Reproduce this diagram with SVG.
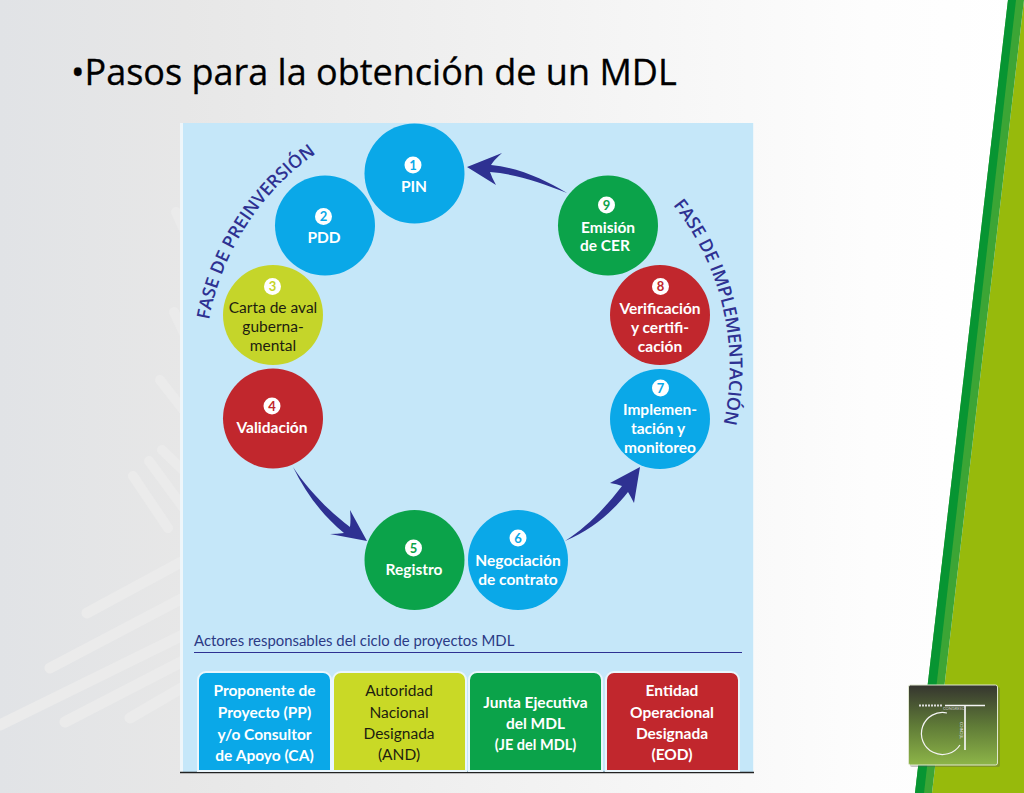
<svg xmlns="http://www.w3.org/2000/svg" width="1024" height="793" viewBox="0 0 1024 793">
<defs>
<linearGradient id="bg" x1="0" y1="0" x2="1" y2="0"><stop offset="0" stop-color="#e1e3e6"/><stop offset="0.18" stop-color="#e7e7e7"/><stop offset="0.55" stop-color="#f3f3f3"/><stop offset="0.85" stop-color="#fdfdfd"/><stop offset="1" stop-color="#fff"/></linearGradient>
<linearGradient id="logo" x1="0" y1="0" x2="0" y2="1"><stop offset="0" stop-color="#35352f"/><stop offset="0.5" stop-color="#5f7a37"/><stop offset="1" stop-color="#8db548"/></linearGradient>
<path id="arcL" d="M209 320 A261 261 0 0 1 318 152"/>
<path id="arcR" d="M673 205 A261 261 0 0 1 722 430"/>
</defs>
<style>
.n{font-family:"Lato","Open Sans",sans-serif;font-weight:700;font-size:15.5px;text-anchor:middle;fill:#fff}
.d{fill:#1d1d10;font-weight:400}
.b{fill:#fff}
.num{font-family:"Lato",sans-serif;font-weight:700;font-size:13px;text-anchor:middle}
.phase{font-family:"Open Sans",sans-serif;font-weight:600;font-size:18px;fill:#2e3192}
.w{stroke:#ebebeb;stroke-linecap:round;fill:none}
.box{stroke:#eaf6fc;stroke-width:2}
</style>
<rect width="1024" height="793" fill="url(#bg)"/>
<g id="watermark">
<path class="w" stroke-width="11" d="M87 613L185 560M50 668L185 597M0 725L185 634M65 722L185 660M130 718L185 686"/>
<path class="w" stroke-width="10" d="M133 476L168 528M149 461L185 510M162 450L185 472M160 380L185 412M174 312L185 335M176 212L185 232"/>
</g>
<g id="stripes">
<polygon points="1024,0 1024,793 932,793" fill="#97ba0c"/>
<polygon points="1008,0 1024,0 932,793 915,793" fill="#3ca535"/>
<polygon points="1008,0 1016,0 924,793 915,793" fill="#079532"/>
</g>
<text id="title" x="71" y="85" font-family="'Open Sans',sans-serif" font-size="36" fill="#000" stroke="#000" stroke-width="0.300">•Pasos para la obtención de un MDL</text>
<g id="panel">
<rect x="180" y="123" width="574" height="649" fill="#eef6fa"/>
<rect x="183" y="123" width="570" height="649" fill="#c5e7f9"/>
<line x1="180" y1="772.500" x2="754" y2="772.500" stroke="#222" stroke-width="1.500"/>
</g>
<g id="connectors" fill="#2e3192">
<path id="arrow-9-1" d="M467 167L502 153Q494 160 491 165C520 168 545 180 567 193C540 182 515 174 490 172Q492 178 496 185Z"/>
<path id="arrow-4-5" d="M367 541L350 510Q351 519 350 527C330 512 308 490 293 467C305 492 322 515 344 533Q337 534 330 534Z"/>
<path id="arrow-6-7" d="M640 467L610 483Q617 484 622 486C605 508 587 527 565 541C592 530 612 512 628 492Q631 497 634 503Z"/>
</g>
<g id="node-1"><circle cx="414.500" cy="173.500" r="50" fill="#0aa8e8"/><circle class="b" cx="413" cy="165" r="8.500"/><text class="num" x="413" y="169.500" fill="#0aa8e8">1</text><text class="n" x="414" y="192">PIN</text></g>
<g id="node-2"><circle cx="325" cy="225.500" r="50" fill="#0aa8e8"/><circle class="b" cx="323.500" cy="216.500" r="8.500"/><text class="num" x="323.500" y="221" fill="#0aa8e8">2</text><text class="n" x="324" y="243">PDD</text></g>
<g id="node-3"><circle cx="273" cy="315" r="50" fill="#c5d52a"/><circle class="b" cx="272.500" cy="286.500" r="8.500"/><text class="num" x="272.500" y="291" fill="#c5d52a">3</text><text class="n d" x="273" y="313">Carta de aval</text><text class="n d" x="273" y="332">guberna-</text><text class="n d" x="273" y="351">mental</text></g>
<g id="node-4"><circle cx="273" cy="418.500" r="50" fill="#c1272d"/><circle class="b" cx="272" cy="406" r="8.500"/><text class="num" x="272" y="410.500" fill="#c1272d">4</text><text class="n" x="272" y="433">Validación</text></g>
<g id="node-5"><circle cx="414.500" cy="560" r="50" fill="#0ba34a"/><circle class="b" cx="413.500" cy="548" r="8.500"/><text class="num" x="413.500" y="552.500" fill="#0ba34a">5</text><text class="n" x="414" y="575">Registro</text></g>
<g id="node-6"><circle cx="518" cy="560" r="50" fill="#0aa8e8"/><circle class="b" cx="518" cy="538" r="8.500"/><text class="num" x="518" y="542.500" fill="#0aa8e8">6</text><text class="n" x="518" y="566">Negociación</text><text class="n" x="518" y="585">de contrato</text></g>
<g id="node-7"><circle cx="660" cy="419" r="50" fill="#0aa8e8"/><circle class="b" cx="660.500" cy="388" r="8.500"/><text class="num" x="660.500" y="392.500" fill="#0aa8e8">7</text><text class="n" x="660" y="415">Implemen-</text><text class="n" x="658" y="434">tación y</text><text class="n" x="660" y="453">monitoreo</text></g>
<g id="node-8"><circle cx="660" cy="315" r="50" fill="#c1272d"/><circle class="b" cx="660.500" cy="286.500" r="8.500"/><text class="num" x="660.500" y="291" fill="#c1272d">8</text><text class="n" x="660" y="314">Verificación</text><text class="n" x="660" y="333">y certifi-</text><text class="n" x="660" y="352">cación</text></g>
<g id="node-9"><circle cx="608" cy="225.500" r="50" fill="#0ba34a"/><circle class="b" cx="606.500" cy="205" r="8.500"/><text class="num" x="606.500" y="209.500" fill="#0ba34a">9</text><text class="n" x="608" y="233">Emisión</text><text class="n" x="605" y="251">de CER</text></g>
<g id="phases">
<text class="phase"><textPath href="#arcL" textLength="203">FASE DE PREINVERSIÓN</textPath></text>
<text class="phase"><textPath href="#arcR" textLength="232">FASE DE IMPLEMENTACIÓN</textPath></text>
</g>
<g id="actors">
<text x="194" y="646" font-family="Lato,sans-serif" font-size="14.900" fill="#2b3a85">Actores responsables del ciclo de proyectos MDL</text>
<line x1="194" y1="652.500" x2="742" y2="652.500" stroke="#2e3192" stroke-width="1.200"/>
<g id="actor-pp"><path class="box" d="M198 771V680a8 8 0 0 1 8-8H323a8 8 0 0 1 8 8V771Z" fill="#0aa8e8"/><text class="n" x="264.500" y="696">Proponente de</text><text class="n" x="264.500" y="718">Proyecto (PP)</text><text class="n" x="264.500" y="740">y/o Consultor</text><text class="n" x="264.500" y="761">de Apoyo (CA)</text></g>
<g id="actor-and"><path class="box" d="M333 771V680a8 8 0 0 1 8-8H458a8 8 0 0 1 8 8V771Z" fill="#c9d926"/><text class="n d" x="399" y="696">Autoridad</text><text class="n d" x="399" y="718">Nacional</text><text class="n d" x="399" y="739">Designada</text><text class="n d" x="399" y="760">(AND)</text></g>
<g id="actor-je"><path class="box" d="M469 771V680a8 8 0 0 1 8-8H594a8 8 0 0 1 8 8V771Z" fill="#0ba34a"/><text class="n" x="535.500" y="708">Junta Ejecutiva</text><text class="n" x="535.500" y="729">del MDL</text><text class="n" x="535.500" y="750" style="font-size:14.500px">(JE del MDL)</text></g>
<g id="actor-eod"><path class="box" d="M606 771V680a8 8 0 0 1 8-8H731a8 8 0 0 1 8 8V771Z" fill="#c1272d"/><text class="n" x="672" y="696">Entidad</text><text class="n" x="672" y="718">Operacional</text><text class="n" x="672" y="739">Designada</text><text class="n" x="672" y="760">(EOD)</text></g>
</g>
<g id="logo-ct">
<rect x="910" y="687" width="90" height="80" rx="2" fill="#555" opacity="0.350"/>
<rect x="908.500" y="685" width="89" height="80" rx="2" fill="url(#logo)" stroke="#dfe6cf" stroke-width="1"/>
<path d="M919 705.500H943" stroke="#ddd" stroke-width="1.800" stroke-dasharray="2 1" fill="none"/>
<path d="M945 705.500H985M965 705.500V750" stroke="#f4f4f4" stroke-width="1.700" fill="none"/>
<path d="M947 713A21 21 0 1 0 960 745" stroke="#f4f4f4" stroke-width="1.200" fill="none"/>
<text x="943" y="710" font-family="Lato,sans-serif" font-size="4" fill="#ccc">CONGRESO</text>
<text transform="translate(962.500 739) rotate(-90)" font-family="Lato,sans-serif" font-size="4" fill="#ddd">TÉCNICO</text>
</g>
</svg>
